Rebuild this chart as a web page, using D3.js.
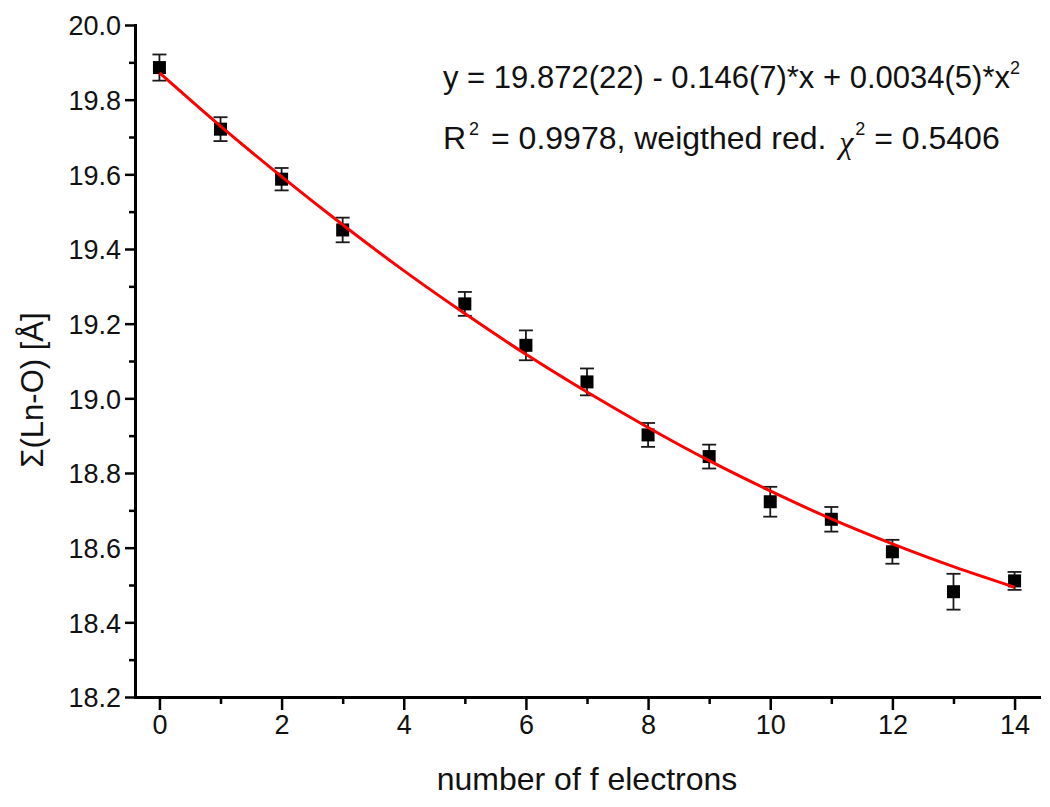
<!DOCTYPE html>
<html>
<head>
<meta charset="utf-8">
<script src="https://cdn.jsdelivr.net/npm/d3@7"></script>
<style>
  html, body { margin: 0; padding: 0; background: #fff; }
  svg { display: block; font-family: "Liberation Sans", Arial, sans-serif; }
</style>
</head>
<body>
<svg id="chart" width="1050" height="807"></svg>
<script>
// ---- data ----
const electrons = [0, 1, 2, 3, 5, 6, 7, 8, 9, 10, 11, 12, 13, 14];
const sumLnO    = [19.886, 19.721, 19.587, 19.451, 19.253, 19.142, 19.044, 18.902, 18.844, 18.723, 18.676, 18.589, 18.482, 18.511];
const errors    = [0.035, 0.032, 0.030, 0.033, 0.032, 0.040, 0.036, 0.032, 0.032, 0.040, 0.033, 0.032, 0.048, 0.024];

// fitted curve, read at integer x
const fitX = [0, 1, 2, 3, 4, 5, 6, 7, 8, 9, 10, 11, 12, 13, 14];
const fitY = [19.872, 19.729, 19.594, 19.465, 19.342, 19.227, 19.118, 19.017, 18.922, 18.833, 18.752, 18.677, 18.610, 18.549, 18.494];

const xMajorTicks = [0, 2, 4, 6, 8, 10, 12, 14];
const xMinorTicks = [1, 3, 5, 7, 9, 11, 13];
const yMajorTicks = [18.2, 18.4, 18.6, 18.8, 19.0, 19.2, 19.4, 19.6, 19.8, 20.0];
const yMinorTicks = [18.3, 18.5, 18.7, 18.9, 19.1, 19.3, 19.5, 19.7, 19.9];

const xTitle = "number of f electrons";
const yTitle = "Σ(Ln-O) [Å]";

// ---- layout ----
const svg = d3.select("#chart");
const L = 135, R = 1039, T = 25, B = 697;

const x = d3.scaleLinear().domain([-0.4, 14.4]).range([L, R]);
const y = d3.scaleLinear().domain([18.2, 20.0]).range([B, T]);

const axisColor = "#000";

// minor ticks
const gxMinor = svg.append("g").attr("transform", `translate(0,${B})`)
  .call(d3.axisBottom(x).tickValues(xMinorTicks).tickSize(7).tickSizeOuter(0).tickFormat(""));
const gyMinor = svg.append("g").attr("transform", `translate(${L},0)`)
  .call(d3.axisLeft(y).tickValues(yMinorTicks).tickSize(6).tickSizeOuter(0).tickFormat(""));

// major axes
const gx = svg.append("g").attr("transform", `translate(0,${B})`)
  .call(d3.axisBottom(x).tickValues(xMajorTicks).tickSize(13).tickSizeOuter(0).tickPadding(5).tickFormat(d3.format("d")));
const gy = svg.append("g").attr("transform", `translate(${L},0)`)
  .call(d3.axisLeft(y).tickValues(yMajorTicks).tickSize(10).tickSizeOuter(0).tickPadding(4).tickFormat(d3.format(".1f")));

[gxMinor, gyMinor, gx, gy].forEach(g => {
  g.selectAll("path.domain").attr("stroke", axisColor).attr("stroke-width", 3).attr("stroke-linecap", "square");
  g.selectAll(".tick line").attr("stroke", axisColor).attr("stroke-width", 2.5);
  g.selectAll(".tick text").attr("fill", "#111").attr("font-size", 27)
    .attr("font-family", "Liberation Sans, Arial, sans-serif");
});
gy.selectAll(".tick text").attr("dy", "0.36em");

// axis titles
svg.append("text")
  .attr("x", (L + R) / 2).attr("y", 790)
  .attr("text-anchor", "middle").attr("font-size", 32).attr("fill", "#111")
  .text(xTitle);

svg.append("text")
  .attr("transform", `translate(43,390) rotate(-90)`)
  .attr("text-anchor", "middle").attr("font-size", 31).attr("fill", "#111")
  .text(yTitle);

// error bars
const pts = electrons.map((e, i) => ({ x: e, v: sumLnO[i], err: errors[i] }));
const capW = 7;
const eb = svg.append("g").attr("stroke", "#1a1a1a").attr("stroke-width", 1.8);
pts.forEach(p => {
  const cx = x(p.x), y1 = y(p.v + p.err), y2 = y(p.v - p.err);
  eb.append("line").attr("x1", cx).attr("x2", cx).attr("y1", y1).attr("y2", y2);
  eb.append("line").attr("x1", cx - capW).attr("x2", cx + capW).attr("y1", y1).attr("y2", y1);
  eb.append("line").attr("x1", cx - capW).attr("x2", cx + capW).attr("y1", y2).attr("y2", y2);
});

// markers
const ms = 13;
svg.append("g").selectAll("rect").data(pts).join("rect")
  .attr("x", d => x(d.x) - ms / 2).attr("y", d => y(d.v) - ms / 2)
  .attr("width", ms).attr("height", ms).attr("fill", "#000");

// fit curve
const line = d3.line().x(d => x(d[0])).y(d => y(d[1])).curve(d3.curveNatural);
svg.append("path")
  .datum(fitX.map((v, i) => [v, fitY[i]]))
  .attr("d", line).attr("fill", "none").attr("stroke", "#ff0000").attr("stroke-width", 3);

// annotation text
const t1 = svg.append("text").attr("x", 443).attr("y", 88).attr("font-size", 31).attr("fill", "#111");
t1.append("tspan").text("y = 19.872(22) - 0.146(7)*x + 0.0034(5)*x");
t1.append("tspan").attr("font-size", 18).attr("dy", -14).text("2");

const t2 = svg.append("text").attr("x", 443).attr("y", 149).attr("font-size", 32).attr("fill", "#111");
t2.append("tspan").text("R");
t2.append("tspan").attr("font-size", 18).attr("dx", 3).attr("dy", -14).text("2");
t2.append("tspan").attr("dx", 3).attr("dy", 14).text(" = 0.9978, weigthed red. ");
t2.append("tspan").attr("font-family", "Liberation Serif, serif").attr("font-style", "italic").attr("dx", 4).attr("dy", 4).text("χ");
t2.append("tspan").attr("font-size", 18).attr("dx", 2).attr("dy", -18).text("2");
t2.append("tspan").attr("dy", 14).text(" = 0.5406");
</script>
</body>
</html>
